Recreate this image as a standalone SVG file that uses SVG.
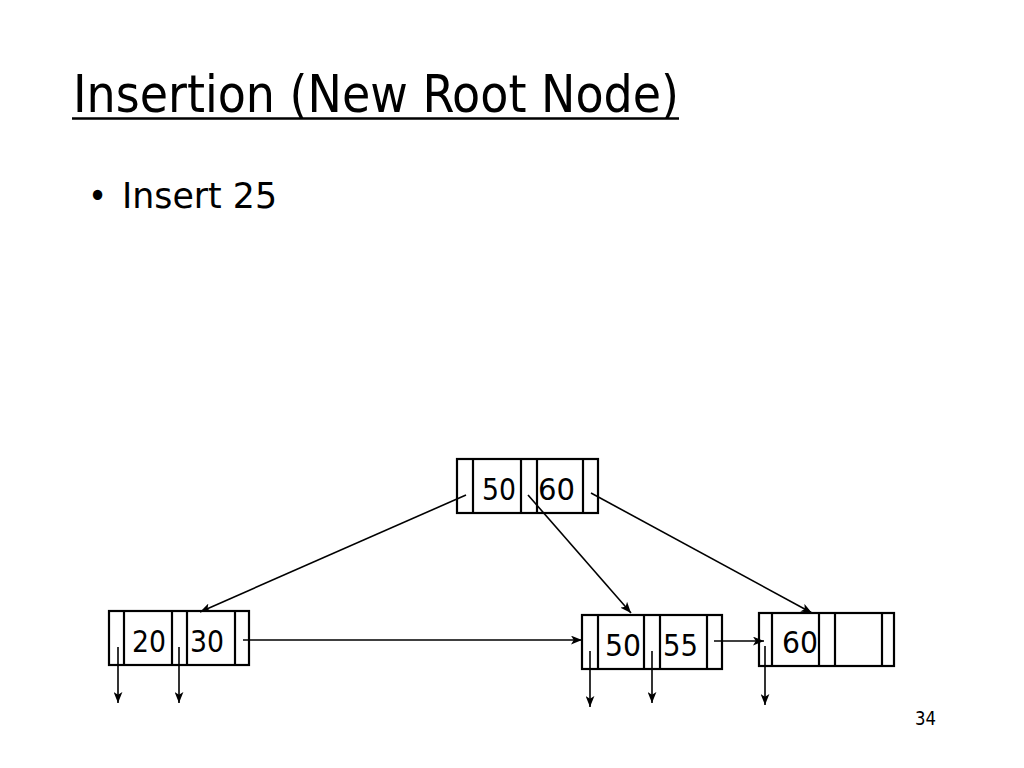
<svg xmlns="http://www.w3.org/2000/svg" width="1024" height="768" viewBox="0 0 1024 768">
<style>
.t{font-family:"DejaVu Sans Condensed","DejaVu Sans","Liberation Sans",sans-serif;font-stretch:condensed;fill:#000}
.box{fill:#fff;stroke:#000;stroke-width:2.2}
.div{stroke:#000;stroke-width:2.2}
.num{font-size:31px}
.conn{stroke:#000;stroke-width:1.6;fill:none;marker-end:url(#ah)}
</style>
<defs>
<marker id="ah" viewBox="0 0 10 8" refX="10" refY="4" markerWidth="11" markerHeight="9" markerUnits="userSpaceOnUse" orient="auto">
<path d="M0,0 L10,4 L0,8 L2.5,4 z" fill="#000"/>
</marker>
</defs>
<rect width="1024" height="768" fill="#fff"/>
<g id="title">
<text class="t" x="73" y="112" font-size="51" textLength="606" lengthAdjust="spacingAndGlyphs">Insertion (New Root Node)</text>
<line x1="72" y1="118.5" x2="679" y2="118.5" stroke="#000" stroke-width="2.5"/>
</g>
<g id="bullet">
<text class="t" x="88" y="208" font-size="36">•</text>
<text class="t" x="122" y="208" font-size="36" textLength="155" lengthAdjust="spacingAndGlyphs">Insert 25</text>
</g>
<g id="root">
<rect class="box" x="457" y="459" width="141" height="54"/>
<line class="div" x1="473" y1="459" x2="473" y2="513"/>
<line class="div" x1="521" y1="459" x2="521" y2="513"/>
<line class="div" x1="537" y1="459" x2="537" y2="513"/>
<line class="div" x1="583" y1="459" x2="583" y2="513"/>
<text class="t num" x="482" y="500" textLength="34" lengthAdjust="spacingAndGlyphs">50</text>
<text class="t num" x="538" y="500" textLength="37" lengthAdjust="spacingAndGlyphs">60</text>
</g>
<g id="leaf1">
<rect class="box" x="109" y="611" width="140" height="54"/>
<line class="div" x1="124" y1="611" x2="124" y2="665"/>
<line class="div" x1="172" y1="611" x2="172" y2="665"/>
<line class="div" x1="187" y1="611" x2="187" y2="665"/>
<line class="div" x1="235" y1="611" x2="235" y2="665"/>
<text class="t num" x="132" y="652" textLength="34" lengthAdjust="spacingAndGlyphs">20</text>
<text class="t num" x="190" y="652" textLength="34" lengthAdjust="spacingAndGlyphs">30</text>
</g>
<g id="leaf2">
<rect class="box" x="582" y="615" width="140" height="54"/>
<line class="div" x1="598" y1="615" x2="598" y2="669"/>
<line class="div" x1="644" y1="615" x2="644" y2="669"/>
<line class="div" x1="660" y1="615" x2="660" y2="669"/>
<line class="div" x1="707" y1="615" x2="707" y2="669"/>
<text class="t num" x="605" y="656" textLength="36" lengthAdjust="spacingAndGlyphs">50</text>
<text class="t num" x="663" y="656" textLength="35" lengthAdjust="spacingAndGlyphs">55</text>
</g>
<g id="leaf3">
<rect class="box" x="759" y="613" width="135" height="53"/>
<line class="div" x1="772" y1="613" x2="772" y2="666"/>
<line class="div" x1="819" y1="613" x2="819" y2="666"/>
<line class="div" x1="835" y1="613" x2="835" y2="666"/>
<line class="div" x1="882" y1="613" x2="882" y2="666"/>
<text class="t num" x="782" y="653" textLength="36" lengthAdjust="spacingAndGlyphs">60</text>
</g>
<g id="connectors">
<line class="conn" x1="466" y1="495" x2="200" y2="612"/>
<line class="conn" x1="528" y1="495" x2="631" y2="613"/>
<line class="conn" x1="591" y1="493" x2="812" y2="613"/>
<line class="conn" x1="243" y1="640" x2="582" y2="640"/>
<line class="conn" x1="714" y1="641" x2="764" y2="641"/>
<line class="conn" x1="118" y1="647" x2="118" y2="703"/>
<line class="conn" x1="179" y1="647" x2="179" y2="703"/>
<line class="conn" x1="590" y1="651" x2="590" y2="707"/>
<line class="conn" x1="652" y1="651" x2="652" y2="703"/>
<line class="conn" x1="765" y1="646" x2="765" y2="705"/>
</g>
<text id="page" class="t" x="915" y="725" font-size="20" textLength="21" lengthAdjust="spacingAndGlyphs">34</text>
</svg>
